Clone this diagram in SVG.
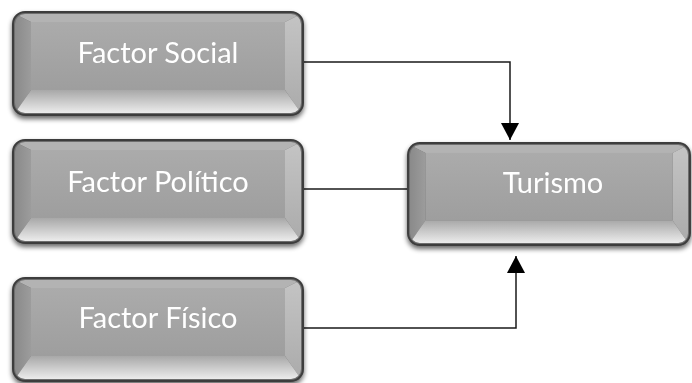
<svg xmlns="http://www.w3.org/2000/svg" xmlns:xlink="http://www.w3.org/1999/xlink" width="692" height="383" viewBox="0 0 692 383">
<defs>
<style>
.lbl{font-family:"Lato","Liberation Sans",sans-serif;font-size:29px;fill:#ffffff;text-anchor:middle}
.conn{fill:none;stroke:#1a1a1a;stroke-width:1.5}
</style>
<filter id="sh" x="-10%" y="-20%" width="120%" height="150%">
<feGaussianBlur in="SourceAlpha" stdDeviation="2.5"/>
<feOffset dx="0" dy="3" result="b"/>
<feComponentTransfer><feFuncA type="linear" slope="0.6"/></feComponentTransfer>
<feMerge><feMergeNode/><feMergeNode in="SourceGraphic"/></feMerge>
</filter>
<linearGradient id="face" x1="0" y1="0" x2="0" y2="1">
<stop offset="0" stop-color="#ababab"/><stop offset="1" stop-color="#9e9e9e"/>
</linearGradient>
<linearGradient id="left" x1="0" y1="0" x2="1" y2="0">
<stop offset="0" stop-color="#8a8a8a"/><stop offset="1" stop-color="#9c9c9c"/>
</linearGradient>
<linearGradient id="right" x1="0" y1="0" x2="0" y2="1">
<stop offset="0" stop-color="#c4c4c4"/><stop offset="1" stop-color="#ababab"/>
</linearGradient>
<linearGradient id="bottom" x1="0" y1="0" x2="0" y2="1">
<stop offset="0" stop-color="#a8a8a8"/><stop offset="1" stop-color="#ececec"/>
</linearGradient>
<clipPath id="clip"><rect x="2" y="2" width="286" height="99" rx="10"/></clipPath>
<marker id="arr" markerUnits="userSpaceOnUse" markerWidth="18" markerHeight="18" refX="17" refY="9" orient="auto" viewBox="0 0 18 18">
<path d="M0,0 L17,9 L0,18 z" fill="#000"/>
</marker>
<g id="btn">
<rect x="0" y="0" width="290" height="103" rx="12" fill="#6e6e6e" stroke="#3e3e3e" stroke-width="2"/>
<g clip-path="url(#clip)">
<polygon points="2,2 288,2 272,10 18,10" fill="#b3b3b3"/>
<polygon points="2,2 18,10 18,78 2,101" fill="url(#left)"/>
<polygon points="288,2 272,10 272,78 288,101" fill="url(#right)"/>
<polygon points="2,101 18,78 272,78 288,101" fill="url(#bottom)"/>
<rect x="18" y="10" width="254" height="68" fill="url(#face)"/>
</g>
</g>
</defs>
<g id="connectors">
<path class="conn" d="M303,62 H510 V140" marker-end="url(#arr)"/>
<path class="conn" d="M303,189 H408"/>
<path class="conn" d="M303,328 H516 V256" marker-end="url(#arr)"/>
</g>
<g id="node-social" filter="url(#sh)">
<use xlink:href="#btn" transform="translate(13,12)"/>
<text class="lbl" x="158" y="63">Factor Social</text>
</g>
<g id="node-politico" filter="url(#sh)">
<use xlink:href="#btn" transform="translate(13,140)"/>
<text class="lbl" x="158" y="192">Factor Político</text>
</g>
<g id="node-fisico" filter="url(#sh)">
<use xlink:href="#btn" transform="translate(13,278)"/>
<text class="lbl" x="158" y="328">Factor Físico</text>
</g>
<g id="node-turismo" filter="url(#sh)">
<use xlink:href="#btn" transform="translate(408,143) scale(0.9724,0.99)"/>
<text class="lbl" x="553" y="193">Turismo</text>
</g>
</svg>
